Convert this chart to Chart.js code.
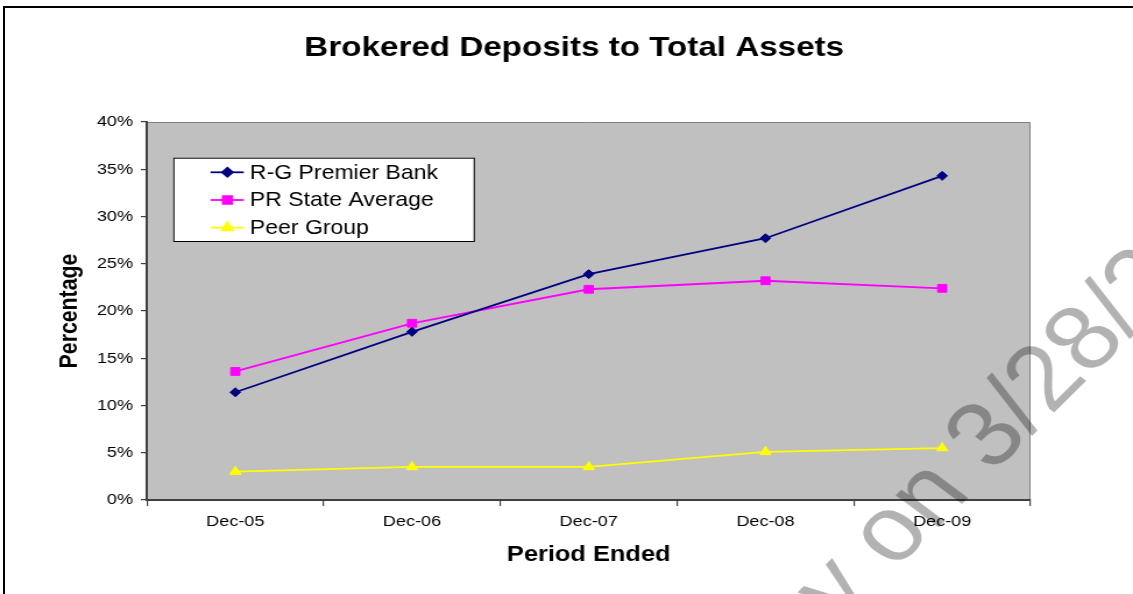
<!DOCTYPE html>
<html>
<head>
<meta charset="utf-8">
<script src="https://cdn.jsdelivr.net/npm/chart.js@4"></script>
<style>
  body { margin: 0; background: #fff; overflow: hidden; }
  #wrap { position: relative; width: 1133px; height: 594px; }
  #frame { position: absolute; left: 3px; top: 6px; width: 1200px; height: 700px;
           border-left: 2px solid #000; border-top: 2px solid #000; pointer-events: none; }
  #chart { position: absolute; left: 0; top: 0; }
</style>
</head>
<body>
<div id="wrap">
  <canvas id="chart" width="973" height="594" style="width:1133px;height:594px"></canvas>
  <div id="frame"></div>
</div>
<script>
// Werte (Prozent)
const periods = ['Dec-05', 'Dec-06', 'Dec-07', 'Dec-08', 'Dec-09'];
const rgPremier = [11.4, 17.8, 23.9, 27.7, 34.3];
const prState = [13.6, 18.7, 22.3, 23.2, 22.4];
const peerGroup = [3.0, 3.5, 3.5, 5.1, 5.5];
const yMin = 0, yMax = 40, yStep = 5;

const fontFamily = '"Liberation Sans", Arial, sans-serif';

// grauer Plotbereich mit Rahmen oben/rechts
const plotBackground = {
    id: 'plotBackground',
    afterLayout(chart) {
        // Titel sitzt im Original etwas links der Plotmitte
        chart.titleBlock.left -= 25;
    },
    beforeDraw(chart) {
        const { ctx, chartArea: a } = chart;
        ctx.save();
        ctx.fillStyle = '#C0C0C0';
        ctx.fillRect(a.left, a.top, a.right - a.left, a.bottom - a.top);
        ctx.strokeStyle = '#808080';
        ctx.lineWidth = 1;
        ctx.beginPath();
        ctx.moveTo(a.left, a.top + 0.5);
        ctx.lineTo(a.right - 0.5, a.top + 0.5);
        ctx.lineTo(a.right - 0.5, a.bottom);
        ctx.stroke();
        ctx.restore();
    }
};

// Legende im Kasten wie im Excel-Original
const boxLegend = {
    id: 'boxLegend',
    afterDatasetsDraw(chart) {
        const { ctx, chartArea: a } = chart;
        const x0 = a.left + 22.6, y0 = a.top + 35.7;
        const w = 258, h = 83.3;
        ctx.save();
        ctx.fillStyle = '#fff';
        ctx.fillRect(x0, y0, w, h);
        ctx.strokeStyle = '#000';
        ctx.lineWidth = 1;
        ctx.strokeRect(x0 + 0.5, y0 + 0.5, w, h);
        ctx.font = '19.8px ' + fontFamily;
        ctx.textBaseline = 'middle';
        chart.data.datasets.forEach((ds, i) => {
            const y = y0 + 14.6 + i * 27.7;
            ctx.strokeStyle = ds.borderColor;
            ctx.lineWidth = 1.8;
            ctx.beginPath();
            ctx.moveTo(x0 + 32, y);
            ctx.lineTo(x0 + 60.5, y);
            ctx.stroke();
            ctx.fillStyle = ds.pointBackgroundColor;
            ctx.strokeStyle = ds.pointBorderColor;
            Chart.helpers.drawPoint(ctx, {
                pointStyle: ds.pointStyle, radius: ds.pointRadius,
                borderWidth: ds.pointBorderWidth, rotation: 0
            }, x0 + 46.5, y);
            ctx.fillStyle = '#000';
            ctx.fillText(ds.label, x0 + 65.8, y + 1);
        });
        ctx.restore();
    }
};

// Wasserzeichen des Dokuments
const watermark = {
    id: 'watermark',
    afterDraw(chart) {
        const { ctx } = chart;
        ctx.save();
        ctx.translate(852, 474);
        ctx.rotate(-49 * Math.PI / 180);
        ctx.font = '92px ' + fontFamily;
        ctx.fillStyle = 'rgba(0,0,0,0.3)';
        ctx.textBaseline = 'alphabetic';
        ctx.textAlign = 'right';
        ctx.fillText('Library on ', 0, 0);
        ctx.textAlign = 'left';
        ctx.fillText('3/28/2014', 0, 0);
        ctx.restore();
    }
};

const ctx = document.getElementById('chart').getContext('2d');
new Chart(ctx, {
    type: 'line',
    data: {
        labels: periods,
        datasets: [{
            label: 'R-G Premier Bank',
            data: rgPremier,
            borderColor: '#000080',
            backgroundColor: '#000080',
            pointBackgroundColor: '#000080',
            pointBorderColor: '#000080',
            pointStyle: 'rectRot',
            pointRadius: 4.5,
            pointBorderWidth: 1,
            borderWidth: 1.8
        }, {
            label: 'PR State Average',
            data: prState,
            borderColor: '#FF00FF',
            backgroundColor: '#FF00FF',
            pointBackgroundColor: '#FF00FF',
            pointBorderColor: '#FF00FF',
            pointStyle: 'rect',
            pointRadius: 5.5,
            pointBorderWidth: 1,
            borderWidth: 1.8
        }, {
            label: 'Peer Group',
            data: peerGroup,
            borderColor: '#FFFF00',
            backgroundColor: '#FFFF00',
            pointBackgroundColor: '#FFFF00',
            pointBorderColor: '#FFFF00',
            pointStyle: 'triangle',
            pointRadius: 5.5,
            pointBorderWidth: 1,
            borderWidth: 1.8
        }]
    },
    options: {
        responsive: false,
        devicePixelRatio: 1,
        animation: false,
        layout: { padding: { left: 0, right: 88, top: 0, bottom: 0 } },
        elements: { line: { tension: 0, fill: false } },
        plugins: {
            legend: { display: false },
            tooltip: { enabled: false },
            title: {
                display: true,
                fullSize: false,
                text: 'Brokered Deposits to Total Assets',
                color: '#000',
                font: { family: fontFamily, size: 28.5, weight: 'bold' },
                padding: { top: 30.9, bottom: 56.9 }
            }
        },
        scales: {
            x: {
                offset: true,
                grid: { display: true, offset: true, drawOnChartArea: false, drawTicks: true, tickLength: 6, color: '#404040', lineWidth: 1.2 },
                border: { display: true, color: '#404040', width: 2 },
                ticks: { color: '#000', font: { family: fontFamily, size: 15.5 }, padding: 6, maxRotation: 0 },
                title: {
                    display: true,
                    text: 'Period Ended',
                    color: '#000',
                    font: { family: fontFamily, size: 21.8, weight: 'bold' },
                    padding: { top: 0, bottom: 26.2 }
                },
                afterFit(scale) { scale.height = 94; }
            },
            y: {
                min: yMin,
                max: yMax,
                grid: { display: true, drawOnChartArea: false, drawTicks: true, tickLength: 5.2, color: '#404040', lineWidth: 1.2 },
                border: { display: true, color: '#404040', width: 2 },
                ticks: {
                    stepSize: yStep,
                    color: '#000',
                    font: { family: fontFamily, size: 15.5 },
                    padding: 6.8,
                    callback: v => v + '%'
                },
                title: {
                    display: true,
                    text: 'Percentage',
                    color: '#000',
                    font: { family: fontFamily, size: 21.3, weight: 'bold' },
                    padding: { top: 47.3, bottom: 0 }
                },
                afterFit(scale) { scale.width = 126.2; }
            }
        }
    },
    plugins: [plotBackground, boxLegend, watermark]
});
</script>
</body>
</html>
